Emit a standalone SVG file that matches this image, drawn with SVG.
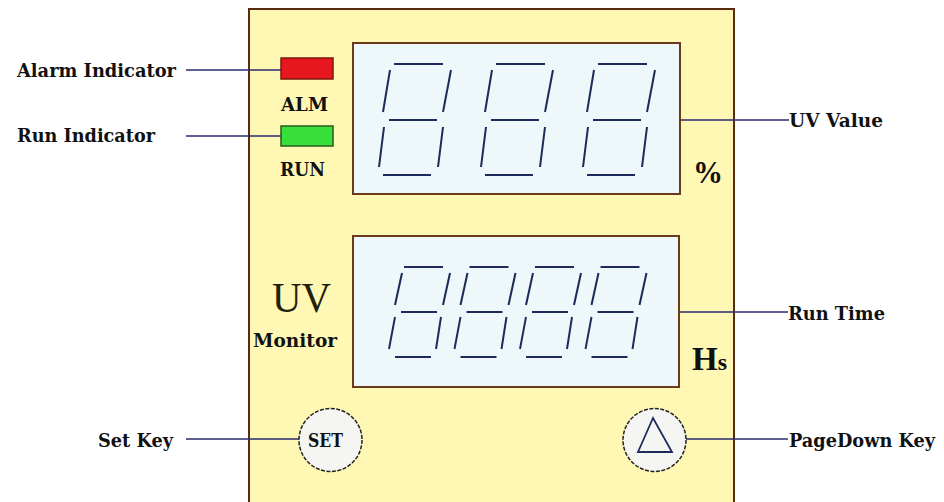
<svg xmlns="http://www.w3.org/2000/svg" xmlns:xlink="http://www.w3.org/1999/xlink" width="944" height="502" viewBox="0 0 944 502">
<style>
.lbl{font-family:"DejaVu Serif","Liberation Serif",serif;font-weight:bold;font-size:18px;fill:#111}
.lead{stroke:#2a2a6e;stroke-width:1.6;fill:none}
.seg{stroke:#1c2a5c;stroke-width:2;stroke-linecap:butt;fill:none}
.disp{fill:#eef8fb;stroke:#6b3a1a;stroke-width:2}
.btn{fill:#f5f5f3;stroke:#222;stroke-width:1.5;stroke-dasharray:4 1.5}
</style>
<defs>
<g id="dig3">
<line class="seg" x1="394" y1="64" x2="443" y2="64"/>
<line class="seg" x1="390" y1="70" x2="383" y2="112"/>
<line class="seg" x1="451" y1="70" x2="443" y2="112"/>
<line class="seg" x1="389" y1="120" x2="437" y2="120"/>
<line class="seg" x1="384" y1="127" x2="379" y2="167"/>
<line class="seg" x1="443" y1="127" x2="438" y2="167"/>
<line class="seg" x1="383" y1="175" x2="431" y2="175"/>
</g>
<g id="dig4">
<line class="seg" x1="404" y1="267" x2="443" y2="267"/>
<line class="seg" x1="402" y1="273" x2="395" y2="305"/>
<line class="seg" x1="450" y1="273" x2="443" y2="305"/>
<line class="seg" x1="401" y1="312" x2="437" y2="312"/>
<line class="seg" x1="395" y1="317" x2="389" y2="349"/>
<line class="seg" x1="441" y1="317" x2="436" y2="349"/>
<line class="seg" x1="395" y1="357" x2="431" y2="357"/>
</g>
</defs>
<rect width="944" height="502" fill="#ffffff"/>
<g id="panel">
<rect x="249" y="9" width="485" height="500" fill="#fff8b4" stroke="#5a2a12" stroke-width="2"/>
</g>
<g id="connectors">
<line class="lead" x1="186" y1="70" x2="281" y2="70"/>
<line class="lead" x1="186" y1="136" x2="281" y2="136"/>
<line class="lead" x1="680" y1="120" x2="789" y2="120"/>
<line class="lead" x1="679" y1="312" x2="788" y2="312"/>
<line class="lead" x1="186" y1="439" x2="299" y2="439"/>
<line class="lead" x1="686" y1="439" x2="788" y2="439"/>
</g>
<g id="uv-display">
<rect class="disp" x="353" y="43" width="327" height="151"/>
<use xlink:href="#dig3"/>
<use xlink:href="#dig3" transform="translate(102,0)"/>
<use xlink:href="#dig3" transform="translate(204,0)"/>
<text x="693" y="183" style="font-family:'Liberation Serif',serif;font-weight:bold;font-size:31px;fill:#111" textLength="30" lengthAdjust="spacingAndGlyphs">%</text>
</g>
<g id="time-display">
<rect class="disp" x="353" y="236" width="326" height="151"/>
<use xlink:href="#dig4"/>
<use xlink:href="#dig4" transform="translate(65.5,0)"/>
<use xlink:href="#dig4" transform="translate(131,0)"/>
<use xlink:href="#dig4" transform="translate(196.5,0)"/>
<text x="692" y="370" style="font-family:'Liberation Serif',serif;font-weight:bold;fill:#111"><tspan font-size="33">H</tspan><tspan font-size="24">s</tspan></text>
</g>
<g id="alm-led">
<rect x="281" y="58" width="52" height="21" fill="#e8161e" stroke="#7a1a10" stroke-width="1.5"/>
<text class="lbl" x="281" y="111" textLength="47" lengthAdjust="spacingAndGlyphs">ALM</text>
</g>
<g id="run-led">
<rect x="281" y="126" width="52" height="20" fill="#3ae03a" stroke="#2a5a1a" stroke-width="1.5"/>
<text class="lbl" x="280" y="176" textLength="45" lengthAdjust="spacingAndGlyphs">RUN</text>
</g>
<g id="title">
<text x="272" y="312" style="font-family:'Liberation Serif',serif;font-size:42px;fill:#22220c" textLength="59" lengthAdjust="spacingAndGlyphs">UV</text>
<text class="lbl" x="253" y="347" textLength="84" lengthAdjust="spacingAndGlyphs">Monitor</text>
</g>
<g id="set-key">
<circle class="btn" cx="330.5" cy="440" r="31.5"/>
<text class="lbl" x="308" y="447" font-size="17" textLength="35" lengthAdjust="spacingAndGlyphs">SET</text>
</g>
<g id="pagedown-key">
<circle class="btn" cx="654.5" cy="440" r="31.5"/>
<polygon points="653,418 638,452 672,452" fill="none" stroke="#1c2a5c" stroke-width="1.8"/>
</g>
<g id="labels">
<text class="lbl" x="17" y="77" textLength="159" lengthAdjust="spacingAndGlyphs">Alarm Indicator</text>
<text class="lbl" x="17" y="142" textLength="138" lengthAdjust="spacingAndGlyphs">Run Indicator</text>
<text class="lbl" x="789" y="127" textLength="94" lengthAdjust="spacingAndGlyphs">UV Value</text>
<text class="lbl" x="788" y="320" textLength="97" lengthAdjust="spacingAndGlyphs">Run Time</text>
<text class="lbl" x="98" y="447" textLength="75" lengthAdjust="spacingAndGlyphs">Set Key</text>
<text class="lbl" x="789" y="447" textLength="146" lengthAdjust="spacingAndGlyphs">PageDown Key</text>
</g>
</svg>
